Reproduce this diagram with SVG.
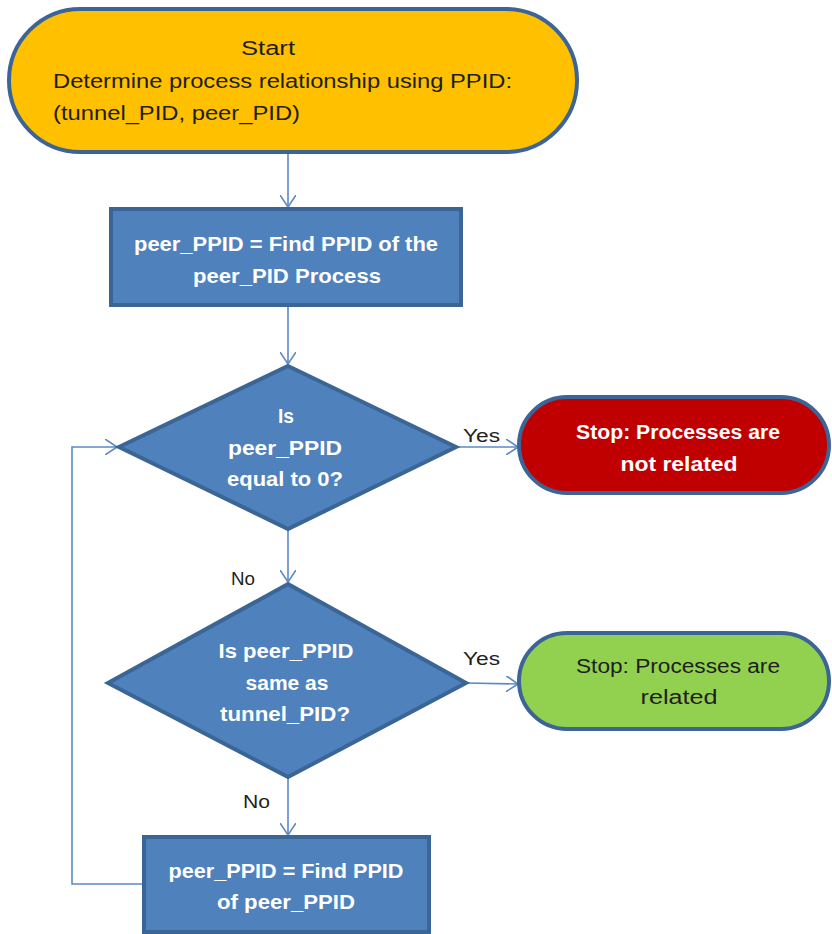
<svg xmlns="http://www.w3.org/2000/svg" width="832" height="934" viewBox="0 0 832 934">
<defs>
<marker id="arr" viewBox="0 0 12 16" refX="12" refY="8" markerWidth="12" markerHeight="16" orient="auto" markerUnits="userSpaceOnUse">
<path d="M0,0 L12,8 L0,16" fill="none" stroke="#5b8ac4" stroke-width="1.6"/>
</marker>
</defs>
<style>
.t{font-family:"Liberation Sans","DejaVu Sans",sans-serif;font-size:20px;}
.w{fill:#ffffff;font-weight:bold;}
.d{fill:#1e1e1e;}
.c{text-anchor:middle;}
.lbl{font-family:"Liberation Sans","DejaVu Sans",sans-serif;font-size:18px;fill:#222;}
.proc{fill:#4f81bd;stroke:#3a6595;stroke-width:4;}
.term{stroke:#3c6496;stroke-width:4;}
.con{fill:none;stroke:#5b8ac4;stroke-width:1.6;}
</style>
<rect width="832" height="934" fill="#ffffff"/>
<g id="connectors">
<line class="con" x1="288" y1="153" x2="288" y2="207" marker-end="url(#arr)"/>
<line class="con" x1="288" y1="307" x2="288" y2="364" marker-end="url(#arr)"/>
<line class="con" x1="457" y1="447" x2="518" y2="447" marker-end="url(#arr)"/>
<line class="con" x1="288" y1="530" x2="288" y2="582" marker-end="url(#arr)"/>
<line class="con" x1="467" y1="683" x2="518" y2="684" marker-end="url(#arr)"/>
<line class="con" x1="288" y1="778" x2="288" y2="835" marker-end="url(#arr)"/>
<polyline class="con" points="143,884 72,884 72,447 117,447" marker-end="url(#arr)"/>
<text class="lbl" x="463" y="442" textLength="37" lengthAdjust="spacingAndGlyphs">Yes</text>
<text class="lbl" x="463" y="665" textLength="37" lengthAdjust="spacingAndGlyphs">Yes</text>
<text class="lbl" x="231" y="585" textLength="24" lengthAdjust="spacingAndGlyphs">No</text>
<text class="lbl" x="243" y="808" textLength="27" lengthAdjust="spacingAndGlyphs">No</text>
</g>
<g id="start">
<rect class="term" x="9" y="9" width="568" height="143" rx="71.5" fill="#ffc000"/>
<text class="t d c" x="268" y="55" textLength="54" lengthAdjust="spacingAndGlyphs">Start</text>
<text class="t d" x="53" y="88" textLength="459" lengthAdjust="spacingAndGlyphs">Determine process relationship using PPID:</text>
<text class="t d" x="53" y="120" textLength="247" lengthAdjust="spacingAndGlyphs">(tunnel_PID, peer_PID)</text>
</g>
<g id="findPeer">
<rect class="proc" x="111" y="209" width="350" height="96"/>
<text class="t w c" x="286" y="251" textLength="304" lengthAdjust="spacingAndGlyphs">peer_PPID = Find PPID of the</text>
<text class="t w c" x="287" y="283" textLength="188" lengthAdjust="spacingAndGlyphs">peer_PID Process</text>
</g>
<g id="isZero">
<polygon class="proc" points="288,366 456,447 288,529 119,447"/>
<text class="t w c" x="286" y="423" textLength="16" lengthAdjust="spacingAndGlyphs">Is</text>
<text class="t w c" x="285" y="455" textLength="114" lengthAdjust="spacingAndGlyphs">peer_PPID</text>
<text class="t w c" x="285" y="486" textLength="116" lengthAdjust="spacingAndGlyphs">equal to 0?</text>
</g>
<g id="notRelated">
<rect class="term" x="519" y="397" width="310" height="96" rx="48" fill="#c00000"/>
<text class="t w c" x="678" y="439" textLength="204" lengthAdjust="spacingAndGlyphs">Stop: Processes are</text>
<text class="t w c" x="679" y="471" textLength="117" lengthAdjust="spacingAndGlyphs">not related</text>
</g>
<g id="isSame">
<polygon class="proc" points="288,584 466,683 288,777 108,683"/>
<text class="t w c" x="286" y="658" textLength="135" lengthAdjust="spacingAndGlyphs">Is peer_PPID</text>
<text class="t w c" x="287" y="690" textLength="83" lengthAdjust="spacingAndGlyphs">same as</text>
<text class="t w c" x="285" y="721" textLength="130" lengthAdjust="spacingAndGlyphs">tunnel_PID?</text>
</g>
<g id="related">
<rect class="term" x="519" y="633" width="310" height="96" rx="48" fill="#92d050"/>
<text class="t d c" x="678" y="673" textLength="204" lengthAdjust="spacingAndGlyphs">Stop: Processes are</text>
<text class="t d c" x="679" y="704" textLength="77" lengthAdjust="spacingAndGlyphs">related</text>
</g>
<g id="findParent">
<rect class="proc" x="144" y="837" width="285" height="95"/>
<text class="t w c" x="286" y="878" textLength="235" lengthAdjust="spacingAndGlyphs">peer_PPID = Find PPID</text>
<text class="t w c" x="286" y="909" textLength="138" lengthAdjust="spacingAndGlyphs">of peer_PPID</text>
</g>
</svg>
